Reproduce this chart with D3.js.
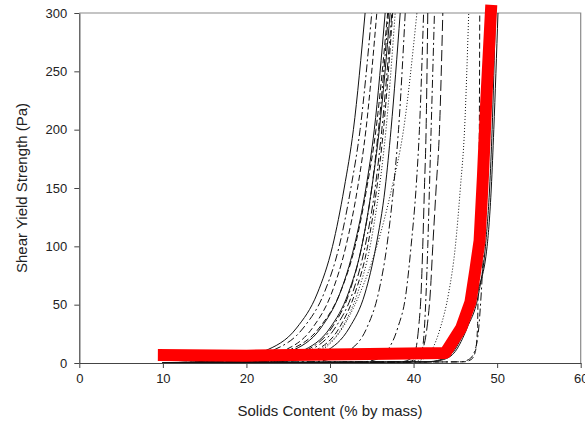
<!DOCTYPE html>
<html><head><meta charset="utf-8">
<script src="https://cdn.jsdelivr.net/npm/d3@7"></script>
<style>body{margin:0;background:#fff}svg{display:block}text{font-family:Arial,"Liberation Sans",sans-serif;fill:#222}</style>
</head><body><svg id="c" width="585" height="425"></svg>
<script>
// ---- data ----
const xTickValues = [0, 10, 20, 30, 40, 50, 60];
const yTickValues = [0, 50, 100, 150, 200, 250, 300];
const xTitle = "Solids Content (% by mass)";
const yTitle = "Shear Yield Strength (Pa)";
// yield stress levels at which each curve's solids content was read
const levelY = [1, 3, 10, 30, 60, 100, 150, 200, 300];
const baseX = 10, baseY = 0.3;
const curveStyles = [
  "solid","dashdot","dashed","solid","dashdot","dashed","solid","dashdot","solid","dashed","dotted",
  "dotted","dashdot","longdash","dashdot","longdash","dashdot",
  "dotted","dashed","dashdot","solid","solid"
];
const curveX = [
  [13.8,17.8,22.1,26.0,28.5,30.3,31.7,32.8,34.2],
  [14.6,18.6,22.9,26.8,29.3,31.1,32.5,33.6,35.0],
  [16.5,20.5,24.8,28.7,31.2,33.0,34.4,35.5,36.9],
  [19.4,22.8,26.6,30.0,32.2,33.8,35.0,35.9,37.2],
  [20.6,23.9,27.4,30.6,32.7,34.2,35.4,36.2,37.4],
  [21.7,24.7,28.1,31.1,33.0,34.5,35.6,36.4,37.5],
  [23.4,26.3,29.5,32.3,34.2,35.5,36.6,37.3,38.4],
  [20.2,23.5,27.0,30.2,32.3,33.8,35.0,35.8,37.0],
  [17.6,21.2,25.3,28.9,31.2,32.9,34.3,35.3,36.6],
  [16.6,20.2,24.3,27.9,30.2,31.9,33.3,34.3,35.6],
  [22.0,25.0,28.4,31.4,33.3,34.8,35.9,36.7,37.8],
  [22.0,25.5,28.8,31.5,33.6,35.6,37.4,38.8,40.4],
  [33.8,35.5,36.8,38.1,39.1,39.7,40.3,40.7,41.2],
  [38.5,39.5,40.2,40.6,40.9,41.1,41.3,41.5,41.7],
  [39.5,40.4,41.0,41.3,41.5,41.7,41.9,42.1,42.5],
  [39.0,40.2,41.0,41.6,42.0,42.3,42.7,43.1,43.5],
  [27.6,29.8,32.2,34.4,35.8,36.8,37.6,38.2,39.0],
  [39.8,41.0,42.1,43.2,44.2,45.0,45.6,46.1,46.6],
  [46.0,46.9,47.4,47.65,47.72,47.78,47.83,47.87,47.92],
  [45.6,46.6,47.3,47.8,48.1,48.4,48.8,49.1,49.5],
  [41.5,43.3,44.8,46.2,47.6,48.8,49.3,49.6,50.1],
  [41.8,43.6,45.0,46.4,47.8,48.6,49.1,49.4,49.8]
];
const redX = [9.4, 20, 43.8, 45.7, 46.8, 47.4, 47.9, 48.3, 48.7, 49.3];
const redY = [6.8, 6.3, 8.5, 30, 52, 80, 105, 160, 225, 307];

// ---- chart ----
const svg = d3.select("#c");
const x = d3.scaleLinear().domain([0, 60]).range([79.3, 580.7]);
const y = d3.scaleLinear().domain([0, 300]).range([363, 13]);

const dashes = {solid:null, dashdot:"8,3,2,3", dashed:"6,3", longdash:"11,4", dotted:"1,2"};

svg.append("defs").append("clipPath").attr("id","plot")
  .append("rect").attr("x", x(0)).attr("y", y(300)).attr("width", x(60)-x(0)).attr("height", y(0)-y(300));

// frame top/right
svg.append("path").attr("d", `M${x(0)},${y(300)}H${x(60)}V${y(0)}`)
  .attr("fill","none").attr("stroke","#8a8a8a").attr("stroke-width",1.2);

const line = d3.line().x(d => x(d[0])).y(d => y(d[1])).curve(d3.curveMonotoneX);
const g = svg.append("g").attr("clip-path","url(#plot)");
curveX.forEach((xs, i) => {
  const pts = [[baseX, baseY]].concat(xs.map((v, j) => [v, levelY[j]]));
  g.append("path").attr("d", line(pts)).attr("fill","none")
    .attr("stroke","#111").attr("stroke-width",1)
    .attr("stroke-dasharray", dashes[curveStyles[i]]);
});

// red line
const redLine = d3.line().x(d => x(d[0])).y(d => y(d[1]));
svg.append("path").attr("d", redLine(redX.map((v,i)=>[v, redY[i]])))
  .attr("fill","none").attr("stroke","#ff0000").attr("stroke-width",12)
  .attr("stroke-linejoin","round").attr("stroke-linecap","butt");

// axes
const xAxis = svg.append("g").attr("transform",`translate(0,${y(0)})`)
  .call(d3.axisBottom(x).tickValues(xTickValues).tickSize(5).tickSizeOuter(0).tickPadding(6));
const yAxis = svg.append("g").attr("transform",`translate(${x(0)},0)`)
  .call(d3.axisLeft(y).tickValues(yTickValues).tickSize(5).tickSizeOuter(0).tickPadding(7));
[xAxis, yAxis].forEach(a => {
  a.select(".domain").attr("stroke","#444").attr("stroke-width",1.2);
  a.selectAll(".tick line").attr("stroke","#444");
  a.selectAll(".tick text").attr("font-size",13).attr("fill","#222")
    .style("font-family","Arial, 'Liberation Sans', sans-serif");
});

svg.append("text").attr("x",(x(0)+x(60))/2).attr("y",416).attr("text-anchor","middle")
  .attr("font-size",15).text(xTitle);
svg.append("text").attr("transform",`translate(27,${(y(0)+y(300))/2}) rotate(-90)`)
  .attr("text-anchor","middle").attr("font-size",15).text(yTitle);
</script></body></html>
